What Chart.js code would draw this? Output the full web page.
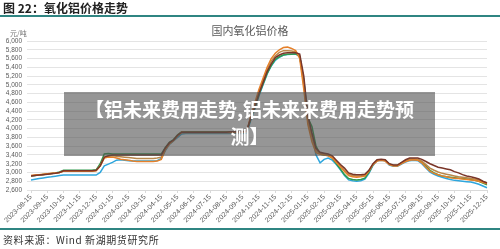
<!DOCTYPE html>
<html>
<head>
<meta charset="utf-8">
<script src="https://cdn.jsdelivr.net/npm/chart.js@4.4.1/dist/chart.umd.min.js"></script>
<style>
  body { margin:0; width:500px; height:249px; background:#fff; overflow:hidden; position:relative; font-family:"Noto Sans CJK SC", sans-serif; }
  #wrap { position:absolute; left:0; top:0; width:500px; height:249px; }
  .head { position:absolute; left:3px; top:0px; font-size:12px; font-weight:bold; color:#222; line-height:16px; }
  .rule { position:absolute; left:0; width:500px; height:2px; background:#2f8582; }
  .ctitle { position:absolute; left:0; width:500px; top:22px; text-align:center; font-size:11px; color:#595959; }
  .unit { position:absolute; left:10px; top:28px; font-size:7px; color:#777; }
  .foot { position:absolute; left:3px; top:232px; font-size:10px; color:#333; letter-spacing:0.6px; }
  .banner { position:absolute; left:64px; top:92px; width:371px; height:64px; background:rgba(80,80,80,0.6);
            color:#fff; font-weight:bold; font-size:19px; line-height:27px; text-align:center; padding-top:3px; box-sizing:border-box; }
</style>
</head>
<body>
<div id="wrap"><canvas id="c" width="500" height="249"></canvas></div>
<div class="head">图 22：氧化铝价格走势</div>
<div class="rule" style="top:15px"></div>
<div class="ctitle">国内氧化铝价格</div>
<div class="unit">元/吨</div>
<div class="rule" style="top:228px"></div>
<div class="foot">资料来源：Wind 新湖期货研究所</div>
<div class="banner">【铝未来费用走势,铝未来来费用走势预<br>测】</div>
<script>
// tick labels (monthly), data is weekly: 4 points per month
var monthLabels = ["2023-08-15","2023-09-15","2023-10-15","2023-11-15","2023-12-15","2024-01-15","2024-02-15","2024-03-15","2024-04-15","2024-05-15","2024-06-15","2024-07-15","2024-08-15","2024-09-15","2024-10-15","2024-11-15","2024-12-15","2025-01-15","2025-02-15","2025-03-15","2025-04-15","2025-05-15","2025-06-15","2025-07-15","2025-08-15","2025-09-15","2025-10-15","2025-11-15","2025-12-15"];

var brown = [2920,2930,2940,2950,2960,2970,2980,3000, 3040,3040,3040,3040,3040,3040,3040,3040,
  3050,3150,3350,3380,3400,3400,3400,3400,3400,3400,3400,3400,3400,3400,3400,3400,3400,
  3560,3680,3740,3850,3920,3920,3920,3920,3920,3920,3920,3920,3920,3920,3920,3920,3930,3930,3930,3930,3950,
  4250,4500,4800,5050,5300,5480,5620,5680,5720,5730,5730,5730,5700,5200,4300,3900,3550,3460,3440,3420,3380,3280,
  3180,3100,2990,2960,2950,2950,2960,3050,3200,3290,3300,3290,3200,3170,3170,3230,3290,3330,3330,3330,
  3300,3250,3200,3160,3120,3100,3080,3060,3020,2990,2950,2920,2900,2880,2850,2800,2760];

var orange = [2930,2940,2950,2960,2970,2980,2990,3000, 3030,3030,3030,3030,3030,3030,3030,3030,
  3040,3150,3330,3350,3350,3330,3300,3290,3280,3260,3250,3250,3250,3250,3250,3260,3300,
  3520,3650,3730,3840,3920,3910,3910,3910,3910,3910,3910,3910,3910,3910,3910,3910,3910,3910,3910,3910,3930,
  4300,4600,4900,5150,5400,5600,5720,5800,5850,5860,5830,5780,5600,4900,4100,3700,3450,3420,3400,3380,3330,3230,
  3130,3020,2930,2900,2890,2900,2920,3030,3180,3260,3280,3260,3180,3150,3150,3200,3250,3280,3290,3280,
  3220,3120,3030,2980,2950,2920,2900,2880,2870,2860,2850,2840,2830,2820,2800,2770,2740];

var tan = [2925,2935,2945,2955,2965,2975,2985,3000, 3035,3035,3035,3035,3035,3035,3035,3035,
  3045,3150,3340,3370,3380,3370,3360,3350,3340,3330,3320,3320,3320,3320,3320,3330,3350,
  3540,3660,3730,3840,3910,3910,3910,3910,3910,3910,3910,3910,3910,3910,3910,3910,3910,3910,3910,3910,3940,
  4280,4550,4850,5100,5350,5540,5660,5740,5780,5780,5770,5750,5650,5000,4200,3800,3500,3440,3420,3400,3350,3250,
  3150,3050,2960,2930,2920,2920,2940,3040,3190,3270,3290,3270,3190,3160,3160,3210,3260,3300,3310,3300,
  3260,3180,3100,3050,3010,2980,2960,2940,2920,2900,2890,2880,2860,2850,2830,2790,2760];

var green = [2920,2930,2945,2955,2965,2975,2990,3010, 3050,3050,3050,3050,3050,3050,3050,3050,
  3060,3200,3420,3430,3420,3420,3420,3420,3420,3420,3420,3420,3420,3420,3420,3420,3420,
  3570,3690,3750,3860,3930,3930,3930,3930,3930,3930,3930,3930,3930,3930,3930,3930,3930,3930,3930,3930,3940,
  4230,4480,4780,5020,5260,5440,5580,5640,5680,5700,5700,5710,5650,5100,4250,4050,3600,3420,3400,3390,3330,3200,
  3080,2950,2860,2840,2830,2840,2870,3000,3180,3280,3290,3280,3190,3160,3160,3220,3270,3300,3300,3290,
  3240,3150,3050,2990,2950,2920,2900,2890,2880,2870,2860,2850,2840,2820,2800,2760,2720];

var blue = [2830,2845,2860,2875,2890,2900,2915,2930, 2940,2940,2940,2940,2940,2940,2940,2940,
  2940,3000,3150,3190,3230,3280,3290,3280,3270,3260,3260,3260,3260,3260,3260,3270,3320,
  3500,3640,3720,3800,3880,3890,3890,3890,3890,3890,3890,3890,3890,3890,3890,3890,3890,3890,3890,3890,3900,
  4200,4450,4750,5000,5250,5430,5560,5630,5680,5690,5700,5700,5650,5100,4200,3850,3400,3220,3300,3330,3280,3180,
  3060,2930,2830,2810,2800,2810,2850,2980,3160,3270,3280,3270,3170,3140,3140,3190,3240,3270,3280,3270,
  3200,3100,3010,2960,2920,2890,2860,2840,2820,2810,2800,2790,2780,2760,2730,2690,2650];

var yMin = 2600, yMax = 6000, yStep = 200;

// category labels: month label on every 4th week
var labels = [];
monthLabels.forEach(function(m, k){
    labels.push(m);
    if (k < monthLabels.length - 1) { labels.push(''); labels.push(''); labels.push(''); }
});

function ds(data, color) {
    return { data: data, borderColor: color, backgroundColor: color, borderWidth: 1.5,
             pointRadius: 0, fill: false, tension: 0 };
}

var ctx = document.getElementById('c').getContext('2d');
var myChart = new Chart(ctx, {
    type: 'line',
    data: {
        labels: labels,
        datasets: [
            ds(brown, '#7a3528'),
            ds(orange, '#e5802a'),
            ds(tan, '#b9874a'),
            ds(green, '#2f9a4c'),
            ds(blue, '#2ea6dd')
        ]
    },
    options: {
        responsive: false,
        animation: false,
        layout: { padding: { top: 41, right: 13, left: 0, bottom: 0 } },
        plugins: { legend: { display: false }, tooltip: { enabled: false } },
        scales: {
            x: {
                grid: { display: true, drawOnChartArea: false, tickLength: 3, color: '#d9d9d9' },
                border: { color: '#d9d9d9' },
                ticks: {
                    autoSkip: false, minRotation: 45, maxRotation: 45, padding: 0,
                    color: '#595959', font: { size: 7, family: 'Liberation Sans' },
                    callback: function(v, i) { return labels[i] === '' ? null : labels[i]; }
                },
                afterFit: function(s) { s.height = 59; }
            },
            y: {
                min: yMin, max: yMax,
                grid: { color: '#e4e4e4', tickLength: 4 },
                border: { display: false },
                ticks: {
                    stepSize: yStep, autoSkip: false, padding: 5, color: '#595959',
                    font: { size: 6.5, family: 'Liberation Sans' },
                    callback: function(v) { return v.toLocaleString('en-US'); }
                },
                afterFit: function(s) { s.width = 31; }
            }
        }
    }
});
</script>
</body>
</html>
